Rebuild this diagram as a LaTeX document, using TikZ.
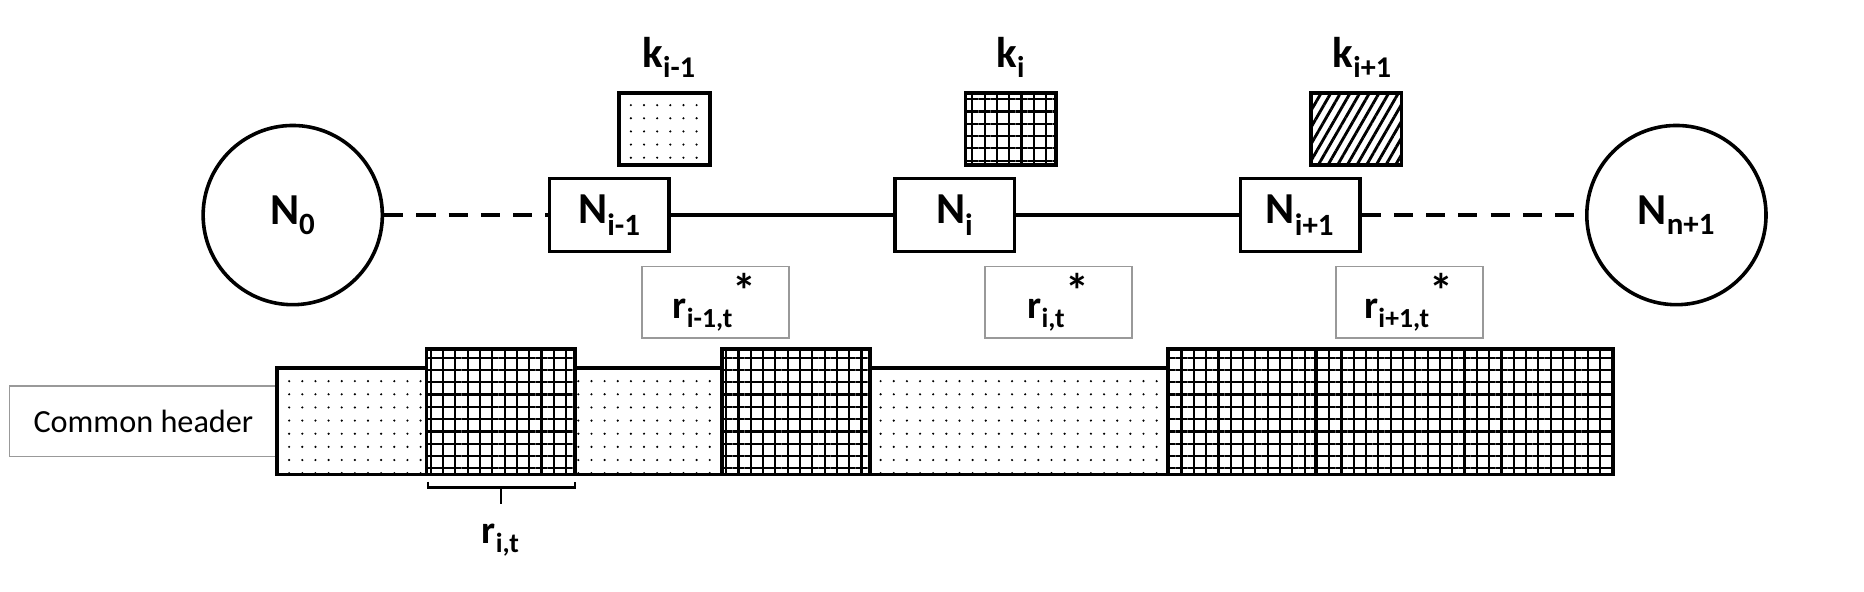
\documentclass[tikz,border=0pt]{standalone}
\usepackage{fontspec}
\setmainfont{Carlito}
\usetikzlibrary{patterns.meta}
\newcommand{\bigstar}{\textsuperscript{\fontsize{40}{40}\selectfont *}}
\begin{document}
\begin{tikzpicture}[x=1pt,y=-1pt,
  lab/.style={font=\bfseries\fontsize{37}{39}\selectfont},
  nbox/.style={draw,line width=3pt,minimum width=100pt,minimum height=61pt,inner sep=0pt,lab},
  circ/.style={draw,line width=3pt,circle,minimum size=150pt,inner sep=0pt,lab},
  kbox/.style={draw,line width=3pt,minimum width=76pt,minimum height=60pt,inner sep=0pt},
  rbox/.style={draw=gray!80,line width=1.5pt,minimum width=123pt,minimum height=60pt,inner sep=0pt,font=\bfseries\fontsize{33}{35}\selectfont},
  seg/.style={draw,line width=3pt,inner sep=0pt},
  dotp/.style={pattern={Dots[distance=11pt,radius=1pt]}},
  gridp/.style={pattern={Hatch[distance=10.3pt,angle=0,line width=1.8pt]}},
  hatchp/.style={pattern={Lines[distance=7pt,angle=60,line width=2.4pt]}},
  conn/.style={line width=3pt}]
\useasboundingbox (0,0) rectangle (1560,495);
\node[circ] (n0) at (245,180) {N\textsubscript{0}};
\node[circ] (nn) at (1403,180) {N\textsubscript{n+1}};
\node[nbox] (a) at (510,180) {N\textsubscript{i-1}};
\node[nbox] (b) at (799,180) {N\textsubscript{i}};
\node[nbox] (c) at (1088,180) {N\textsubscript{i+1}};
\draw[conn,dash pattern=on 16pt off 11pt] (n0) -- (a);
\draw[conn] (a) -- (b);
\draw[conn] (b) -- (c);
\draw[conn,dash pattern=on 16pt off 11pt] (c) -- (nn);
\node[kbox,dotp] (ka) at (556,108) {};
\node[kbox,gridp] (kb) at (846,108) {};
\node[kbox,hatchp] (kc) at (1135,108) {};
\node[lab,font=\bfseries\fontsize{36}{38}\selectfont] (tka) at (560,48) {k\textsubscript{i-1}};
\node[lab,font=\bfseries\fontsize{36}{38}\selectfont] (tkb) at (846,48) {k\textsubscript{i}};
\node[lab,font=\bfseries\fontsize{36}{38}\selectfont] (tkc) at (1140,48) {k\textsubscript{i+1}};
\node[rbox] (ra) at (598.5,253) {r\textsubscript{i-1,t}\bigstar};
\node[rbox] (rb) at (886,253) {r\textsubscript{i,t}\bigstar};
\node[rbox] (rc) at (1179.5,253) {r\textsubscript{i+1,t}\bigstar};
\node[draw=gray!80,line width=1.5pt,minimum width=224pt,minimum height=59pt,inner sep=0pt,font=\fontsize{27}{29}\selectfont] (hdr) at (120,352.5) {Common header};
\draw[seg,dotp] (232,308) rectangle (357,397);
\draw[seg,dotp] (481,308) rectangle (604,397);
\draw[seg,dotp] (728,308) rectangle (977,397);
\draw[seg,gridp] (357,292) rectangle (481,397);
\draw[seg,gridp] (604,292) rectangle (728,397);
\draw[seg,gridp] (977,292) rectangle (1101,397);
\draw[seg,gridp] (1101,292) rectangle (1350,397);
\coordinate (bl) at (358,403);
\coordinate (br) at (481,403);
\coordinate (bm) at (419.5,408);
\coordinate (bs) at (419.5,422);
\draw[line width=2pt] (bl) -- ++(0,5) -- (br|-bm) -- (br);
\draw[line width=2pt] (bm) -- (bs);
\node[font=\bfseries\fontsize{33}{35}\selectfont] (rit) at (419,452) {r\textsubscript{i,t}};
\end{tikzpicture}
\end{document}
